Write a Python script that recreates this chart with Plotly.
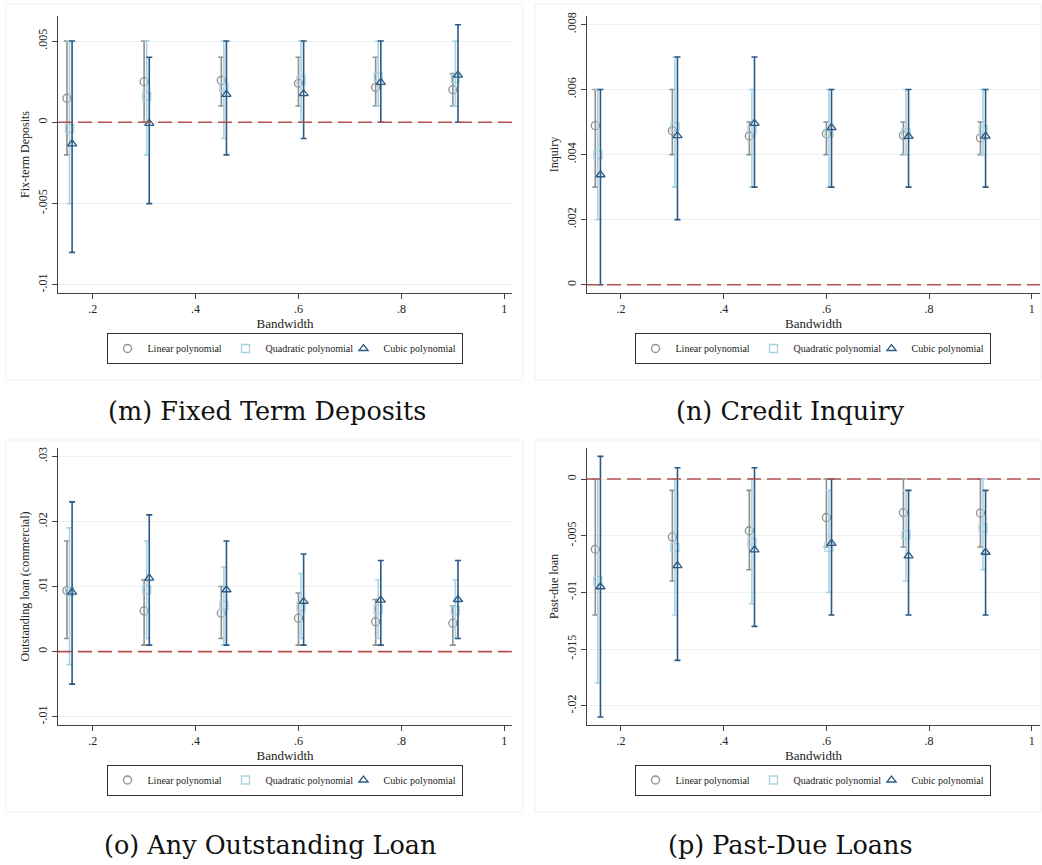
import plotly.graph_objects as go

bandwidth = [0.15, 0.30, 0.45, 0.60, 0.75, 0.90]
series_names = ["Linear polynomial", "Quadratic polynomial", "Cubic polynomial"]

# (m) Fixed Term Deposits
m_lin_est = [0.00148, 0.0025, 0.00258, 0.0024, 0.00215, 0.002]
m_lin_lo = [-0.002, 0.0, 0.001, 0.001, 0.001, 0.001]
m_lin_hi = [0.005, 0.005, 0.004, 0.004, 0.004, 0.003]
m_quad_est = [-0.00037, 0.0016, 0.00215, 0.0026, 0.0028, 0.0027]
m_quad_lo = [-0.005, -0.002, -0.001, 0.0, 0.001, 0.001]
m_quad_hi = [0.005, 0.005, 0.005, 0.005, 0.005, 0.005]
m_cub_est = [-0.00133, -0.00006, 0.00172, 0.00176, 0.00246, 0.0029]
m_cub_lo = [-0.008, -0.005, -0.002, -0.001, 0.0, 0.0]
m_cub_hi = [0.005, 0.004, 0.005, 0.005, 0.005, 0.006]

# (n) Credit Inquiry
n_lin_est = [0.00489, 0.00473, 0.00457, 0.00464, 0.00459, 0.00451]
n_lin_lo = [0.003, 0.004, 0.004, 0.004, 0.004, 0.004]
n_lin_hi = [0.006, 0.006, 0.005, 0.005, 0.005, 0.005]
n_quad_est = [0.004, 0.00486, 0.00476, 0.00467, 0.00467, 0.00476]
n_quad_lo = [0.002, 0.003, 0.003, 0.003, 0.004, 0.004]
n_quad_hi = [0.006, 0.007, 0.006, 0.006, 0.006, 0.006]
n_cub_est = [0.00338, 0.00458, 0.00496, 0.00483, 0.00456, 0.00457]
n_cub_lo = [0.0, 0.002, 0.003, 0.003, 0.003, 0.003]
n_cub_hi = [0.006, 0.007, 0.007, 0.006, 0.006, 0.006]

# (o) Any Outstanding Loan
o_lin_est = [0.00938, 0.00626, 0.0059, 0.00513, 0.0046, 0.00436]
o_lin_lo = [0.002, 0.001, 0.002, 0.001, 0.001, 0.001]
o_lin_hi = [0.017, 0.011, 0.010, 0.009, 0.008, 0.007]
o_quad_est = [0.0092, 0.0095, 0.0071, 0.0069, 0.0065, 0.0063]
o_quad_lo = [-0.002, 0.002, 0.001, 0.002, 0.002, 0.002]
o_quad_hi = [0.019, 0.017, 0.013, 0.012, 0.011, 0.011]
o_cub_est = [0.00913, 0.0113, 0.0095, 0.0077, 0.0079, 0.008]
o_cub_lo = [-0.005, 0.001, 0.001, 0.001, 0.001, 0.002]
o_cub_hi = [0.023, 0.021, 0.017, 0.015, 0.014, 0.014]

# (p) Past-Due Loans
p_lin_est = [-0.0062, -0.0051, -0.00456, -0.00339, -0.00296, -0.003]
p_lin_lo = [-0.012, -0.009, -0.008, -0.006, -0.006, -0.006]
p_lin_hi = [0.0, -0.001, -0.001, 0.0, 0.0, 0.0]
p_quad_est = [-0.00896, -0.00604, -0.0056, -0.006, -0.00492, -0.00433]
p_quad_lo = [-0.018, -0.012, -0.011, -0.010, -0.009, -0.008]
p_quad_hi = [0.0, 0.0, 0.0, -0.001, -0.001, 0.0]
p_cub_est = [-0.0095, -0.00764, -0.00625, -0.00568, -0.00678, -0.00646]
p_cub_lo = [-0.021, -0.016, -0.013, -0.012, -0.012, -0.012]
p_cub_hi = [0.002, 0.001, 0.001, 0.0, -0.001, -0.001]

x_tickvals = [0.2, 0.4, 0.6, 0.8, 1.0]
x_ticktext = [".2", ".4", ".6", ".8", "1"]

m_yticks = [-0.01, -0.005, 0.0, 0.005]
m_ytext = ["-.01", "-.005", "0", ".005"]
n_yticks = [0.0, 0.002, 0.004, 0.006, 0.008]
n_ytext = ["0", ".002", ".004", ".006", ".008"]
o_yticks = [-0.01, 0.0, 0.01, 0.02, 0.03]
o_ytext = ["-.01", "0", ".01", ".02", ".03"]
p_yticks = [-0.02, -0.015, -0.01, -0.005, 0.0]
p_ytext = ["-.02", "-.015", "-.01", "-.005", "0"]

captions = ["(m) Fixed Term Deposits", "(n) Credit Inquiry",
            "(o) Any Outstanding Loan", "(p) Past-Due Loans"]
ytitles = ["Fix-term Deposits", "Inquiry", "Outstanding loan (commercial)", "Past-due loan"]

W, H = 1042, 865
SERIF = "Liberation Serif"
CAPFONT = "DejaVu Serif"

panels = [
    dict(lin=(m_lin_est, m_lin_lo, m_lin_hi), quad=(m_quad_est, m_quad_lo, m_quad_hi),
         cub=(m_cub_est, m_cub_lo, m_cub_hi), yt=(m_yticks, m_ytext),
         yr=[-0.0105, 0.00654], xr=[0.1326, 1.015], px=(58, 512), py=(16, 293),
         leg=(284.5, 348.5), cap=(267, 411), box=(6, 4, 523, 380)),
    dict(lin=(n_lin_est, n_lin_lo, n_lin_hi), quad=(n_quad_est, n_quad_lo, n_quad_hi),
         cub=(n_cub_est, n_cub_lo, n_cub_hi), yt=(n_yticks, n_ytext),
         yr=[-0.000255, 0.00826], xr=[0.1338, 1.016], px=(587, 1040), py=(16, 293),
         leg=(812.5, 348.5), cap=(790, 411), box=(535, 4, 1041, 380)),
    dict(lin=(o_lin_est, o_lin_lo, o_lin_hi), quad=(o_quad_est, o_quad_lo, o_quad_hi),
         cub=(o_cub_est, o_cub_lo, o_cub_hi), yt=(o_yticks, o_ytext),
         yr=[-0.01128, 0.03128], xr=[0.1326, 1.015], px=(58, 512), py=(448, 725),
         leg=(284.5, 780), cap=(270, 845), box=(6, 440, 523, 812)),
    dict(lin=(p_lin_est, p_lin_lo, p_lin_hi), quad=(p_quad_est, p_quad_lo, p_quad_hi),
         cub=(p_cub_est, p_cub_lo, p_cub_hi), yt=(p_yticks, p_ytext),
         yr=[-0.0217, 0.00274], xr=[0.1338, 1.016], px=(587, 1040), py=(448, 725),
         leg=(812.5, 780), cap=(790, 845), box=(535, 440, 1041, 812)),
]

styles = [
    dict(key="lin", color="#8f8f8f", symbol="circle-open", offset=0.0),
    dict(key="quad", color="#a9d3e3", symbol="square-open", offset=0.005),
    dict(key="cub", color="#2b5a85", symbol="triangle-up-open", offset=0.010),
]

fig = go.Figure()
layout = dict(width=W, height=H,
              margin=dict(l=0, r=0, t=0, b=0, pad=0, autoexpand=False),
              paper_bgcolor="white", plot_bgcolor="white",
              font=dict(family=SERIF, color="#222"), shapes=[], annotations=[])

for i, pn in enumerate(panels):
    k = "" if i == 0 else str(i + 1)
    xa, ya = "x" + k, "y" + k
    legname = "legend" + k
    for j, st in enumerate(styles):
        est, lo, hi = pn[st["key"]]
        xs = [b + st["offset"] for b in bandwidth]
        fig.add_trace(go.Scatter(
            x=xs, y=est, mode="markers", name=series_names[j],
            xaxis=xa, yaxis=ya, legend=legname,
            marker=dict(symbol=st["symbol"], size=8, color=st["color"],
                        line=dict(width=1.3, color=st["color"])),
            error_y=dict(type="data", symmetric=False,
                         array=[h - e for h, e in zip(hi, est)],
                         arrayminus=[e - l for e, l in zip(est, lo)],
                         color=st["color"], thickness=1.6, width=3),
            showlegend=True,
        ))
    x0, x1 = pn["px"]
    y0, y1 = pn["py"]
    layout["xaxis" + k] = dict(
        domain=[x0 / W, x1 / W], range=pn["xr"], anchor=ya,
        tickvals=x_tickvals, ticktext=x_ticktext, ticks="outside", ticklen=5,
        tickcolor="#444", showline=True, linecolor="#444", linewidth=1,
        showgrid=False, zeroline=False, automargin=False,
        title=dict(text="Bandwidth", font=dict(size=13, family=SERIF), standoff=0),
        tickfont=dict(size=12, family=SERIF))
    layout["yaxis" + k] = dict(
        domain=[1 - y1 / H, 1 - y0 / H], range=pn["yr"], anchor=xa,
        tickvals=pn["yt"][0], ticktext=pn["yt"][1], ticks="outside", ticklen=5,
        tickcolor="#444", tickangle=-90, showline=True, linecolor="#444", linewidth=1,
        showgrid=True, gridcolor="#e9f1f3", gridwidth=1, zeroline=False,
        automargin=False,
        title=dict(text=ytitles[i], font=dict(size=12, family=SERIF), standoff=4),
        tickfont=dict(size=12, family=SERIF))
    lx, ly = pn["leg"]
    layout[legname] = dict(
        orientation="h", x=lx / W, y=1 - ly / H, xanchor="center", yanchor="middle",
        bordercolor="#333", borderwidth=1, bgcolor="white",
        font=dict(size=10, family=SERIF, color="#222"),
        entrywidth=73, entrywidthmode="pixels", itemwidth=30,
        tracegroupgap=0)
    layout["shapes"].append(dict(
        type="line", xref=xa + " domain", yref=ya, x0=0, x1=1, y0=0, y1=0,
        line=dict(color="#b5504f", width=1.6, dash="14px,6px")))
    bx0, by0, bx1, by1 = pn["box"]
    layout["shapes"].append(dict(
        type="rect", xref="paper", yref="paper", x0=bx0 / W, x1=bx1 / W,
        y0=1 - by1 / H, y1=1 - by0 / H, line=dict(color="#f1f1f1", width=1),
        layer="below"))
    cx, cy = pn["cap"]
    layout["annotations"].append(dict(
        text=captions[i], xref="paper", yref="paper", x=cx / W, y=1 - cy / H,
        xanchor="center", yanchor="middle", showarrow=False,
        font=dict(size=25.5, family=CAPFONT, color="#111")))

fig.update_layout(**layout)
fig.write_html("out.html", config={"displayModeBar": False},
               post_script="document.body.style.margin='0';")
